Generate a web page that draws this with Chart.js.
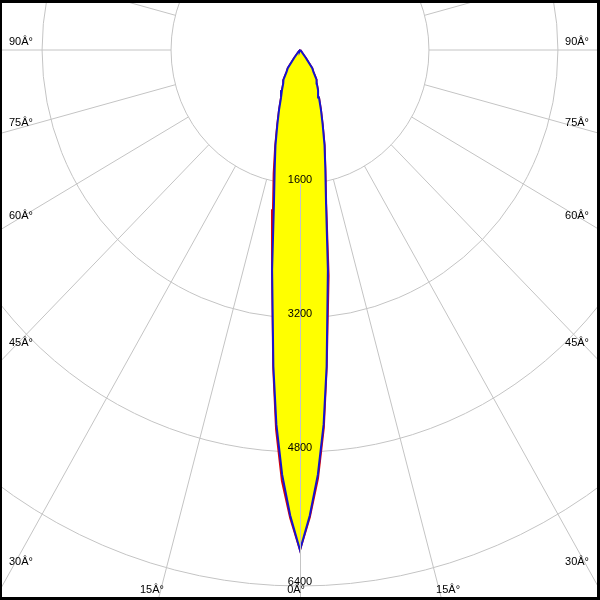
<!DOCTYPE html>
<html>
<head>
<meta charset="utf-8">
<script src="https://cdn.jsdelivr.net/npm/chart.js@4/dist/chart.umd.min.js"></script>
<style>
  html, body { margin: 0; padding: 0; background: #fff; }
  #wrap { width: 600px; height: 600px; }
</style>
</head>
<body>
<div id="wrap"><canvas id="polar" width="600" height="600"></canvas></div>
<script>
// gamma angles (deg from nadir) and intensities in cd
const angles = [0, 1.25, 2.5, 3.75, 5, 7.5, 10, 12.5, 15, 17.5, 20, 22.5, 25, 27.5, 30, 32.5, 35, 37.5, 40, 45, 50, 55, 60, 65, 70, 75, 80, 85, 90];
const blueCd = [5970, 5560, 5075, 4480, 3790, 2650, 1860, 1450, 1175, 935, 760, 615, 530, 450, 410, 310, 265, 120, 50, 20, 10, 5, 3, 2, 1, 1, 0, 0, 0];
const redRight = [5970, 5580, 5120, 4520, 3800, 2720, 1870, 1455, 1180, 935, 760, 615, 530, 450, 410, 310, 265, 120, 50, 20, 10, 5, 3, 2, 1, 1, 0, 0, 0];
const redLeft = [5970, 5590, 5150, 4540, 3810, 2660, 1930, 1510, 1190, 940, 760, 615, 530, 450, 410, 310, 265, 120, 50, 20, 10, 5, 3, 2, 1, 1, 0, 0, 0];

const ringValues = [1600, 3200, 4800, 6400];
const ringLabels = ['1600', '3200', '4800', '6400'];
const angleTicks = [0, 15, 30, 45, 60, 75, 90];
const angleLabels = ['0Â°', '15Â°', '30Â°', '45Â°', '60Â°', '75Â°', '90Â°'];

const FONT = '11px "Liberation Sans", Arial, sans-serif';
const GRID = '#c4c4c4';

function rad(a) { return a * Math.PI / 180; }

// closed outline: left half from 90 down to 0, then right half back up to 90
function outline(left, right) {
  const pts = [];
  for (let i = angles.length - 1; i >= 0; i--) {
    pts.push({ x: -left[i] * Math.sin(rad(angles[i])), y: -left[i] * Math.cos(rad(angles[i])) });
  }
  for (let i = 1; i < angles.length; i++) {
    pts.push({ x: right[i] * Math.sin(rad(angles[i])), y: -right[i] * Math.cos(rad(angles[i])) });
  }
  return pts;
}

function px(chart, x, y) {
  return { x: chart.scales.x.getPixelForValue(x), y: chart.scales.y.getPixelForValue(y) };
}

const gridPlugin = {
  id: 'polarGrid',
  beforeDatasetsDraw(chart) {
    const ctx = chart.ctx;
    const c = px(chart, 0, 0);
    ctx.save();
    ctx.strokeStyle = GRID;
    ctx.lineWidth = 1;
    ringValues.forEach(r => {
      const rx = px(chart, r, 0).x - c.x;
      const ry = px(chart, 0, -r).y - c.y;
      ctx.beginPath();
      ctx.ellipse(c.x, c.y, rx, ry, 0, 0, Math.PI * 2);
      ctx.stroke();
    });
    // spokes every 15 deg, starting from the first ring
    for (let a = 15; a < 360; a += 15) {
      const s = Math.sin(rad(a)), k = Math.cos(rad(a));
      const p0 = px(chart, ringValues[0] * s, -ringValues[0] * k);
      const p1 = px(chart, 20000 * s, -20000 * k);
      ctx.beginPath();
      ctx.moveTo(p0.x, p0.y);
      ctx.lineTo(p1.x, p1.y);
      ctx.stroke();
    }
    ctx.restore();
  },
  afterDatasetsDraw(chart) {
    const ctx = chart.ctx;
    const c = px(chart, 0, 0);
    const W = chart.width, H = chart.height;
    ctx.save();
    // 0 deg spoke on top of the lobe
    ctx.strokeStyle = GRID;
    ctx.lineWidth = 1;
    const p0 = px(chart, 0, -ringValues[0]);
    const p1 = px(chart, 0, -20000);
    ctx.beginPath();
    ctx.moveTo(Math.round(p0.x) + 0.5, p0.y);
    ctx.lineTo(Math.round(p1.x) + 0.5, p1.y);
    ctx.stroke();

    ctx.fillStyle = '#000';
    ctx.font = FONT;
    ctx.textBaseline = 'alphabetic';
    // ring values
    ctx.textAlign = 'center';
    ringValues.forEach((r, i) => {
      const p = px(chart, 0, -r);
      ctx.fillText(ringLabels[i], c.x, p.y - 1);
    });
    // angle labels where the spokes leave the frame
    angleTicks.forEach((a, i) => {
      [-1, 1].forEach(side => {
        if (a === 0 && side === 1) return;
        const d = px(chart, 1000 * Math.sin(rad(a)) * side, -1000 * Math.cos(rad(a)));
        const vx = d.x - c.x, vy = d.y - c.y;
        const bottomY = H - 3;
        const tb = vy > 0 ? (bottomY - c.y) / vy : Infinity;
        const xb = c.x + vx * tb;
        if (Math.abs(xb - c.x) <= c.x - 10) {
          ctx.textAlign = side < 0 ? 'right' : 'left';
          ctx.fillText(angleLabels[i], xb + (side < 0 ? 5 : -5), H - 7);
        } else {
          const ts = (c.x - 10) / Math.abs(vx);
          const ys = c.y + vy * ts;
          ctx.textAlign = side < 0 ? 'left' : 'right';
          ctx.fillText(angleLabels[i], side < 0 ? 9 : W - 11, ys - 5 - (a === 30 ? 2 : 0));
        }
      });
    });
    // frame
    ctx.fillStyle = '#000';
    ctx.fillRect(0, 0, W, 3);
    ctx.fillRect(0, 0, 2, H);
    ctx.fillRect(W - 3, 0, 3, H);
    ctx.fillRect(0, H - 3, W, 3);
    ctx.restore();
  }
};

new Chart(document.getElementById('polar'), {
  type: 'scatter',
  data: {
    datasets: [{
      label: 'C90-C270',
      data: outline(blueCd, blueCd),
      showLine: true,
      borderColor: '#1414d2',
      borderWidth: 2,
      backgroundColor: '#ffff00',
      fill: 'shape',
      pointRadius: 0,
      tension: 0
    }, {
      label: 'C0-C180',
      data: outline(redLeft, redRight),
      showLine: true,
      borderColor: '#e00000',
      borderWidth: 2,
      backgroundColor: '#ffff00',
      fill: 'shape',
      pointRadius: 0,
      tension: 0
    }]
  },
  options: {
    responsive: false,
    animation: false,
    devicePixelRatio: 1,
    layout: { padding: 0 },
    plugins: { legend: { display: false }, tooltip: { enabled: false } },
    scales: {
      x: { type: 'linear', display: false, min: -3722, max: 3722 },
      y: { type: 'linear', display: false, min: -6567, max: 597 }
    }
  },
  plugins: [gridPlugin]
});
</script>
</body>
</html>
